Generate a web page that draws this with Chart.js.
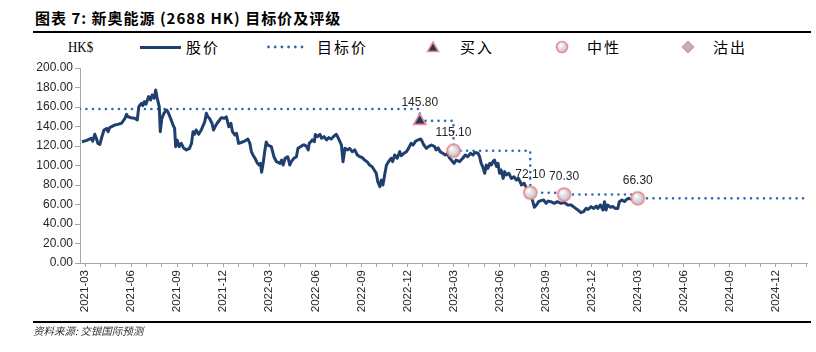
<!DOCTYPE html>
<html>
<head>
<meta charset="utf-8">
<script src="https://cdn.jsdelivr.net/npm/chart.js@4.4.1/dist/chart.umd.min.js"></script>
<style>
body{margin:0;background:#fff;width:816px;height:352px;overflow:hidden;position:relative;font-family:"Noto Sans CJK SC",sans-serif;}
#chart{position:absolute;left:0;top:0;}
.abs{position:absolute;white-space:nowrap;}
.title{left:35px;top:8px;font-size:15px;line-height:20px;font-weight:bold;color:#000;letter-spacing:1px;}
.rule{left:33px;width:778px;background:#000;}
.lg{top:37px;line-height:20px;font-size:15px;color:#000;letter-spacing:2px;}
.src{left:33px;top:324px;font-size:10.5px;line-height:14px;font-style:italic;color:#333;}
</style>
</head>
<body>
<div class="abs title">图表 7: 新奥能源 (2688 HK) 目标价及评级</div>
<div class="abs rule" style="top:31px;height:1.5px"></div>

<div class="abs lg" style="left:68px;font-family:'Liberation Serif',serif;letter-spacing:0;transform:scaleX(0.86);transform-origin:left center;">HK$</div>
<div class="abs" style="left:140px;top:46px;width:41px;height:3px;background:#1F3F6E"></div>
<div class="abs lg" style="left:186px">股价</div>
<svg class="abs" style="left:266px;top:44px" width="40" height="6">
  <g fill="#2F6AB0"><circle cx="2.5" cy="3" r="1.4"/><circle cx="9.2" cy="3" r="1.4"/><circle cx="15.9" cy="3" r="1.4"/><circle cx="22.6" cy="3" r="1.4"/><circle cx="29.3" cy="3" r="1.4"/><circle cx="36" cy="3" r="1.4"/></g>
</svg>
<div class="abs lg" style="left:317px">目标价</div>
<svg class="abs" style="left:426px;top:40px" width="14" height="14">
  <polygon points="7,2 12.5,11.5 1.5,11.5" fill="#1F3864" stroke="#F2878D" stroke-width="1.5"/>
</svg>
<div class="abs lg" style="left:460px">买入</div>
<svg class="abs" style="left:554px;top:39px" width="16" height="16">
  <defs><radialGradient id="ball" cx="0.38" cy="0.35" r="0.7"><stop offset="0" stop-color="#ffffff"/><stop offset="1" stop-color="#bdbdc6"/></radialGradient></defs>
  <circle cx="8" cy="8" r="5.5" fill="url(#ball)" stroke="#F2878D" stroke-width="1.6"/>
</svg>
<div class="abs lg" style="left:587px">中性</div>
<svg class="abs" style="left:680px;top:39px" width="16" height="16">
  <polygon points="8,2.5 13.5,8 8,13.5 2.5,8" fill="#A7BCCB" stroke="#F2878D" stroke-width="1.5"/>
</svg>
<div class="abs lg" style="left:713px">沽出</div>

<canvas id="chart" width="816" height="352"></canvas>

<div class="abs rule" style="top:321px;height:2px"></div>
<div class="abs src">资料来源: 交银国际预测</div>

<script>
// stock price (HK$)
const priceDates = ['2021-02-25','2021-03-03','2021-03-13','2021-03-16','2021-03-20','2021-03-23','2021-03-26','2021-03-30','2021-04-03','2021-04-08',
 '2021-04-13','2021-04-16','2021-04-19','2021-04-22','2021-04-29','2021-05-05','2021-05-12','2021-05-19','2021-05-22','2021-05-25',
 '2021-06-01','2021-06-08','2021-06-13','2021-06-16','2021-06-21','2021-06-24','2021-06-27','2021-06-30','2021-07-05','2021-07-09',
 '2021-07-12','2021-07-16','2021-07-19','2021-07-22','2021-07-26','2021-07-28','2021-08-01','2021-08-05','2021-08-10','2021-08-13',
 '2021-08-18','2021-08-23','2021-08-26','2021-08-28','2021-09-01','2021-09-05','2021-09-09','2021-09-14','2021-09-19','2021-09-25',
 '2021-09-29','2021-10-02','2021-10-05','2021-10-08','2021-10-13','2021-10-18','2021-10-25','2021-10-28','2021-11-01','2021-11-04',
 '2021-11-09','2021-11-12','2021-11-15','2021-11-19','2021-11-24','2021-11-27','2021-12-04','2021-12-07','2021-12-12','2021-12-16',
 '2021-12-19','2021-12-24','2021-12-27','2022-01-01','2022-01-06','2022-01-13','2022-01-19','2022-01-23','2022-01-26','2022-01-29',
 '2022-02-03','2022-02-08','2022-02-11','2022-02-14','2022-02-16','2022-02-19','2022-02-22','2022-02-25','2022-02-28','2022-03-05',
 '2022-03-10','2022-03-15','2022-03-22','2022-03-25','2022-03-28','2022-04-02','2022-04-07','2022-04-11','2022-04-14','2022-04-19',
 '2022-04-24','2022-04-27','2022-05-02','2022-05-07','2022-05-10','2022-05-14','2022-05-17','2022-05-19','2022-05-22','2022-05-25',
 '2022-05-29','2022-06-01','2022-06-05','2022-06-10','2022-06-13','2022-06-18','2022-06-23','2022-06-27','2022-07-02','2022-07-08',
 '2022-07-12','2022-07-16','2022-07-19','2022-07-22','2022-07-25','2022-07-29','2022-08-04','2022-08-08','2022-08-13','2022-08-18',
 '2022-08-23','2022-08-28','2022-09-03','2022-09-07','2022-09-12','2022-09-17','2022-09-22','2022-09-26','2022-09-30','2022-10-03',
 '2022-10-07','2022-10-10','2022-10-13','2022-10-17','2022-10-20','2022-10-24','2022-10-29','2022-11-02','2022-11-06','2022-11-11',
 '2022-11-16','2022-11-19','2022-11-24','2022-11-29','2022-12-03','2022-12-08','2022-12-12','2022-12-17','2022-12-22','2022-12-27',
 '2022-12-30','2023-01-03','2023-01-08','2023-01-12','2023-01-18','2023-01-24','2023-01-27','2023-01-31','2023-02-05','2023-02-10',
 '2023-02-15','2023-02-19','2023-02-23','2023-03-02','2023-03-06','2023-03-13','2023-03-19','2023-03-24','2023-03-29','2023-04-04',
 '2023-04-09','2023-04-13','2023-04-19','2023-04-22','2023-04-25','2023-04-28','2023-05-02','2023-05-05','2023-05-08','2023-05-12',
 '2023-05-15','2023-05-18','2023-05-21','2023-05-25','2023-05-28','2023-06-01','2023-06-04','2023-06-08','2023-06-11','2023-06-14',
 '2023-06-19','2023-06-24','2023-06-29','2023-07-04','2023-07-08','2023-07-14','2023-07-19','2023-07-24','2023-07-28','2023-08-03',
 '2023-08-06','2023-08-09','2023-08-13','2023-08-17','2023-08-22','2023-08-27','2023-09-02','2023-09-06','2023-09-11','2023-09-18',
 '2023-09-24','2023-10-01','2023-10-08','2023-10-14','2023-10-21','2023-10-27','2023-11-04','2023-11-10','2023-11-15','2023-11-20',
 '2023-11-24','2023-11-30','2023-12-05','2023-12-10','2023-12-13','2023-12-18','2023-12-23','2023-12-26','2023-12-29','2024-01-02',
 '2024-01-08','2024-01-12','2024-01-17','2024-01-22','2024-01-25','2024-01-30','2024-02-05','2024-02-08','2024-02-13','2024-02-18',
 '2024-02-24'];
const price = [124.4,125.5,127.9,125.0,132.0,128.0,122.7,121.7,127.9,136.4,
 138.0,134.7,138.8,139.7,141.5,142.2,143.3,148.4,152.5,150.0,
 149.0,148.4,146.7,160.3,163.8,161.5,165.5,162.8,170.6,167.2,
 172.3,168.9,177.4,168.9,160.3,134.7,148.4,153.5,156.9,155.0,
 148.4,141.5,138.0,119.3,126.0,119.3,122.7,117.6,116.0,117.6,
 122.7,134.7,132.0,136.4,132.0,136.4,145.0,153.5,150.0,148.4,
 143.3,136.4,139.7,143.3,146.7,149.0,148.4,150.0,139.7,143.3,
 134.7,131.3,133.0,122.7,123.6,125.0,127.2,122.7,114.2,110.8,
 107.4,102.2,100.5,102.2,93.0,102.2,114.2,124.0,121.0,119.3,
 109.0,103.9,102.2,105.6,100.5,107.4,109.0,100.5,103.9,107.4,
 109.0,117.6,119.3,121.0,121.0,119.3,116.0,122.7,124.4,126.2,
 124.4,131.9,129.6,131.9,127.9,129.6,126.2,128.6,127.2,130.6,
 131.9,127.9,124.4,121.0,103.9,117.6,116.0,117.6,114.2,116.0,
 110.8,109.0,108.0,105.6,103.9,100.5,98.8,95.4,92.0,83.4,
 78.3,85.0,80.0,92.0,100.5,103.9,107.4,104.0,110.8,107.4,
 114.2,110.0,112.5,114.2,117.6,122.7,121.0,125.0,126.2,127.2,
 124.4,121.0,117.6,119.3,121.0,119.3,116.0,118.0,114.2,112.5,
 110.8,112.0,108.0,102.2,105.6,104.0,107.4,110.8,109.0,112.5,
 110.8,113.3,112.5,109.0,102.2,98.8,92.0,100.5,97.1,102.2,
 100.5,104.0,105.6,99.0,102.2,92.0,95.4,86.8,93.7,90.3,
 92.0,86.8,88.5,85.1,86.8,80.0,81.7,76.6,73.2,68.1,
 62.9,57.1,59.5,62.9,64.0,64.6,61.2,63.5,62.9,61.2,
 62.9,61.2,62.0,59.5,59.5,57.1,54.4,51.6,52.6,56.0,
 55.0,57.8,56.0,58.4,56.0,59.5,54.4,62.9,54.4,59.5,
 57.1,58.0,56.0,56.0,62.9,64.6,63.0,64.6,66.3,65.5,
 66.3];

// target price history (step line)
const targetDates = ['2021-02-21','2022-12-25','2023-03-01','2023-08-01','2023-10-07','2024-03-01','2025-02-02'];
const targetPrice = [158.0, 145.8, 115.1, 72.1, 70.3, 66.3, 66.3];

// ratings
const buyDates = ['2022-12-25'];
const buyPrice = [145.8];
const neutralDates = ['2023-03-01','2023-08-01','2023-10-07','2024-03-01'];
const neutralPrice = [115.1, 72.1, 70.3, 66.3];

const xTickLabels = ['2021-03','2021-06','2021-09','2021-12','2022-03','2022-06','2022-09','2022-12',
 '2023-03','2023-06','2023-09','2023-12','2024-03','2024-06','2024-09','2024-12'];

// months since 2021-03-01
function monthPos(s){
  const [y,m,d]=s.split('-').map(Number);
  return (y-2021)*12+(m-3)+(d-1)/30;
}
const pts=(ds,vs)=>ds.map((d,i)=>({x:monthPos(d),y:vs[i]}));

function ballImage(r){
  const s=Math.ceil(r*2+4), c=document.createElement('canvas'); c.width=s; c.height=s;
  const g=c.getContext('2d'), cx=s/2;
  const grad=g.createRadialGradient(cx-r*0.35,cx-r*0.4,r*0.1,cx,cx,r);
  grad.addColorStop(0,'#ffffff'); grad.addColorStop(1,'#bdbdc6');
  g.beginPath(); g.arc(cx,cx,r,0,Math.PI*2); g.fillStyle=grad; g.fill();
  g.lineWidth=1.6; g.strokeStyle='#F2878D'; g.stroke();
  return c;
}

const valueLabels={
  id:'valueLabels',
  afterDatasetsDraw(chart){
    const ctx=chart.ctx; ctx.save();
    ctx.font='12px "Liberation Sans", Arial, sans-serif'; ctx.fillStyle='#262626';
    ctx.textAlign='center'; ctx.textBaseline='middle';
    chart.data.datasets.forEach((ds,i)=>{
      if(!ds.showValues) return;
      chart.getDatasetMeta(i).data.forEach((p,j)=>ctx.fillText(ds.data[j].y.toFixed(2),p.x,p.y-18));
    });
    ctx.restore();
  }
};

const axisGray='#A6A6A6';
const tickFont={family:'"Liberation Sans", Arial, sans-serif',size:12};

new Chart(document.getElementById('chart'),{
  type:'line',
  data:{datasets:[
    {label:'买入',data:pts(buyDates,buyPrice),showLine:false,pointStyle:'triangle',pointRadius:7,
     pointBackgroundColor:'#1F3864',pointBorderColor:'#F2878D',pointBorderWidth:1.6,showValues:true},
    {label:'中性',data:pts(neutralDates,neutralPrice),showLine:false,pointStyle:ballImage(6.5),showValues:true},
    {label:'股价',data:pts(priceDates,price),borderColor:'#1F3F6E',borderWidth:3,pointRadius:0,
     borderJoinStyle:'round',tension:0},
    {label:'目标价',data:pts(targetDates,targetPrice),borderColor:'#2F6AB0',borderWidth:2.6,pointRadius:0,
     stepped:true,borderDash:[0,6.5],borderCapStyle:'round'}
  ]},
  options:{
    responsive:false,animation:false,
    layout:{padding:{top:68,right:8,bottom:30,left:0}},
    plugins:{legend:{display:false},tooltip:{enabled:false}},
    scales:{
      x:{type:'linear',min:-0.33,max:47.05,
        afterBuildTicks:s=>{const t=[];for(let m=0;m<=47;m++)t.push({value:m});s.ticks=t;},
        ticks:{autoSkip:false,minRotation:90,maxRotation:90,padding:3,color:'#262626',
          font:{...tickFont,size:11.5},
          callback:v=>(v%3===0?xTickLabels[v/3]||'':'')},
        grid:{drawOnChartArea:false,tickLength:4,color:axisGray},
        border:{color:axisGray},
        afterFit:s=>{s.height=59;s.paddingLeft=0;s.paddingRight=0;}},
      y:{min:0,max:200,
        ticks:{stepSize:20,padding:2,color:'#262626',font:tickFont,callback:v=>v.toFixed(2)},
        grid:{drawOnChartArea:false,tickLength:5,color:axisGray},
        border:{color:axisGray},
        afterFit:s=>{s.width=80;s.paddingTop=0;s.paddingBottom=0;}}
    }
  },
  plugins:[valueLabels]
});
</script>
</body>
</html>
